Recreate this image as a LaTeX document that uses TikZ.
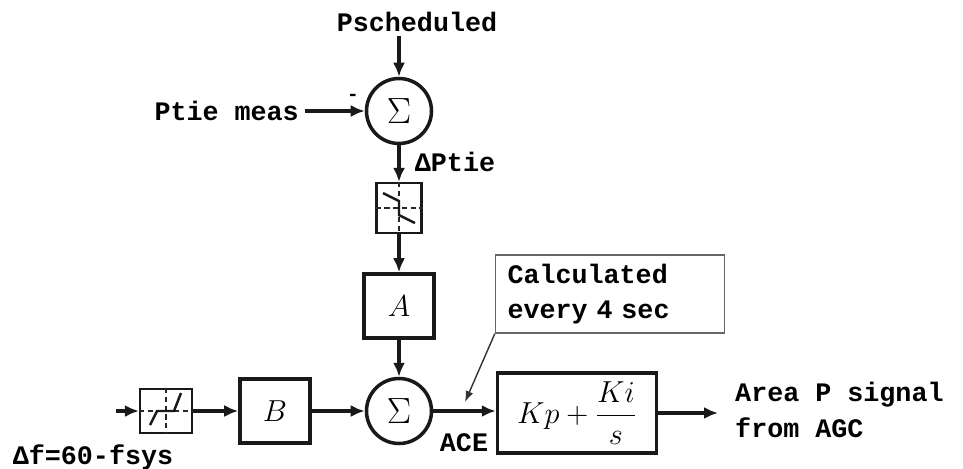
\documentclass[tikz,border=0pt]{standalone}
\usepackage{amsmath}
\usepackage{fontspec}
\usepackage{tikz}
\newfontfamily\blockfont{Liberation Mono}
\usetikzlibrary{arrows.meta,positioning}

\begin{document}
\begin{tikzpicture}[
  x=0.2mm, y=-0.2mm,
  font=\blockfont\bfseries\fontsize{15.2}{20}\selectfont,
  block/.style={
    draw=black!90,
    line width=2pt,
    minimum width=1.4cm,
    minimum height=1.28cm,
    inner sep=2pt,
    font=\fontsize{16}{18}\selectfont
  },
  deadband/.style={draw=black!90, line width=1.2pt, minimum width=0.9cm, minimum height=1.0cm, inner sep=0pt},
  summer/.style={circle, draw=black!90, line width=2pt, minimum size=1.3cm, inner sep=0pt, font=\fontsize{22}{24}\selectfont},
  signal/.style={-{Latex[length=2.8mm,width=2.4mm]}, line width=2pt, draw=black!90},
  note/.style={draw=black!60, line width=0.8pt, text width=4.1cm, minimum height=1.56cm, align=left, inner xsep=0.24cm},
  pointer/.style={-{Latex[length=2.2mm,width=1.6mm]}, line width=0.8pt, draw=black!80},
  guide/.style={densely dashed, line width=0.7pt, draw=black!85},
  curve/.style={line width=1.4pt, draw=black!90}
]
  \useasboundingbox (0,0) rectangle (963,468);

  % tie-line branch
  \node (psched) at (417,22) {Pscheduled};
  \node[summer] (sumtie) at (399,111) {$\Sigma$};
  \node[anchor=east] (ptie) at (305,111) {Ptie meas};
  \node[font=\blockfont\bfseries\fontsize{11}{12}\selectfont] (minus) at (353,97) {-};
  \node[deadband] (dbtie) at (399,208) {};
  \node (dptie) at (455,162) {ΔPtie};
  \node[block, minimum height=1.28cm] (gaina) at (399,306) {$A$};

  % frequency branch
  \node[deadband, minimum width=1.04cm, minimum height=0.88cm] (dbf) at (166,411) {};
  \coordinate (fin) at (116,411);
  \node (dfreq) at (93,457) {Δf=60-fsys};
  \node[block] (gainb) at (275,411) {$B$};
  \node[summer] (sumace) at (399,411) {$\Sigma$};
  \node (ace) at (464,443) {ACE};

  % controller
  \node[block, minimum width=3.18cm, minimum height=1.6cm] (pi) at (577,413) {$Kp+\dfrac{Ki}{s}$};
  \coordinate (out) at (718,413);
  \node[anchor=west, align=left] (areap) at (729,410) {Area P signal\\from AGC};
  \node[note] (calc) at (610,294) {Calculated\\every 4 sec};
  \coordinate (acept) at (465,402);

  \draw[signal] (399,36) -- (sumtie.north);
  \draw[signal] (ptie.east) -- (sumtie.west);
  \draw[signal] (sumtie.south) -- (dbtie.north);
  \draw[signal] (dbtie.south) -- (gaina.north);
  \draw[signal] (gaina.south) -- (sumace.north);
  \draw[signal] (fin) -- (dbf.west);
  \draw[signal] (dbf.east) -- (gainb.west);
  \draw[signal] (gainb.east) -- (sumace.west);
  \draw[signal] (sumace.east) -- (pi.west |- sumace.east);
  \draw[signal] (pi.east |- out) -- (out);
  \draw[pointer] (calc.south west) -- (acept);

  % deadband characteristics
  \draw[guide] (dbtie.north) -- (dbtie.south);
  \draw[guide] (dbtie.west) -- (dbtie.east);
  \draw[curve] ([shift={(-16,-15)}]dbtie.center) -- ([shift={(0,-7)}]dbtie.center)
    -- ([shift={(0,7)}]dbtie.center) -- ([shift={(16,15)}]dbtie.center);
  \draw[guide] (dbf.north) -- (dbf.south);
  \draw[guide] (dbf.west) -- (dbf.east);
  \draw[curve] ([shift={(-16,14)}]dbf.center) -- ([shift={(-9,0)}]dbf.center)
    -- ([shift={(8,0)}]dbf.center) -- ([shift={(15,-18)}]dbf.center);
\end{tikzpicture}
\end{document}
